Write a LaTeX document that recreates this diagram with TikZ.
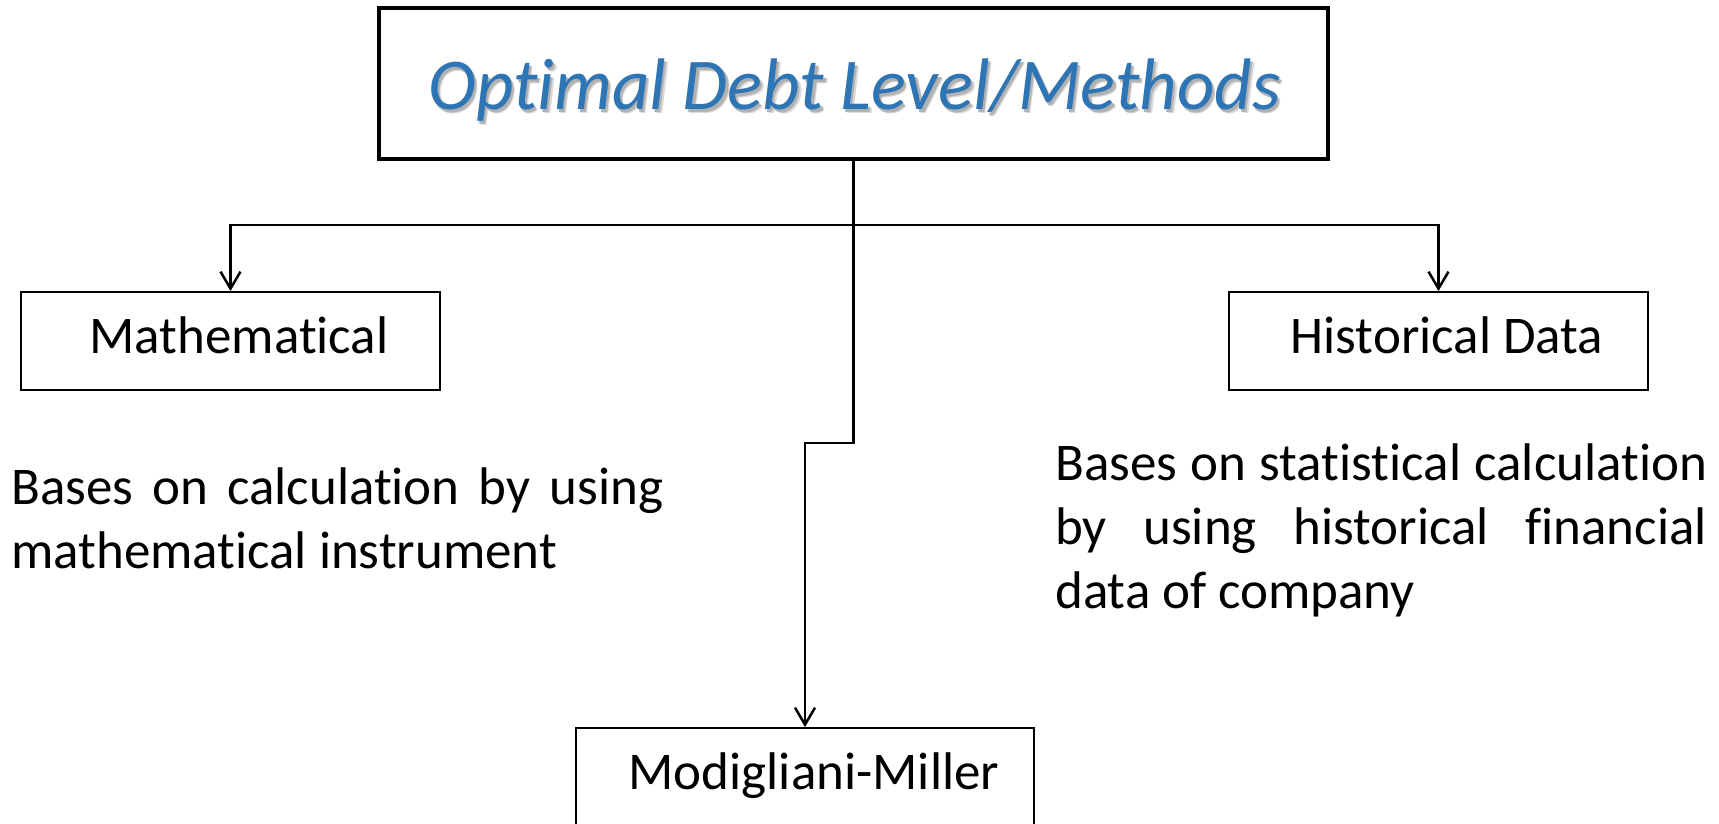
\documentclass[tikz,border=0pt]{standalone}
\usepackage{fontspec}
\setmainfont{Carlito}[Ligatures=CommonOff]
\usetikzlibrary{arrows.meta}
\definecolor{titleblue}{HTML}{2E75B6}
\newcommand{\ttlshadow}[1]{%
  \rlap{\raisebox{-3.5pt}{\hspace{3.5pt}\textcolor{black!14}{#1}}}%
  \rlap{\raisebox{-2.2pt}{\hspace{2.2pt}\textcolor{black!30}{#1}}}%
  \textcolor{titleblue}{#1}}
\begin{document}
\begin{tikzpicture}[x=1pt,y=-1pt,
  titlebox/.style={draw, line width=4pt, minimum width=949pt, minimum height=151pt, inner sep=0pt},
  titletext/.style={inner sep=0pt, anchor=base, font=\fontsize{73pt}{86pt}\selectfont\itshape},
  box/.style={draw, line width=1.8pt, minimum width=419pt, minimum height=98pt, inner sep=0pt,
    text height=40pt, text depth=16pt, font=\fontsize{53pt}{64pt}\selectfont},
  conn/.style={line width=2.5pt},
  arr/.style={conn, -{Straight Barb[length=17pt,width=20pt,line width=2.5pt]}},
  desc/.style={inner sep=0pt, text width=652pt, align=justify, anchor=base west,
    font=\fontsize{53pt}{64pt}\selectfont}]
\useasboundingbox[fill=white] (0,0) rectangle (1719,824);
% title
\node[titlebox] (title) at (853.5,83.5) {};
\node[titletext] (ttext) at (854.5,110) {\ttlshadow{Optimal Debt Level/Methods}};
% boxes
\node[box] (math) at (230.5,341) {\hspace*{17pt}Mathematical};
\node[box] (hist) at (1438.5,341) {\hspace*{17pt}Historical Data};
\node[box, minimum width=458pt] (mm) at (805,777) {\hspace*{18pt}Modigliani-Miller};
% connectors
\coordinate (j) at (853.5,225);
\coordinate (k) at (853.5,443);
\draw[conn] (title.south) -- (j);
\draw[arr] (j) -| (math.north);
\draw[arr] (j) -| (hist.north);
\draw[arr] (j) -- (k) -| (mm.north);
% descriptions
\node[desc] (dmath) at (11,504) {Bases on calculation by using\linebreak mathematical instrument};
\node[desc] (dhist) at (1055,480) {Bases on statistical calculation\linebreak by using historical financial\linebreak data of company};
\end{tikzpicture}
\end{document}
